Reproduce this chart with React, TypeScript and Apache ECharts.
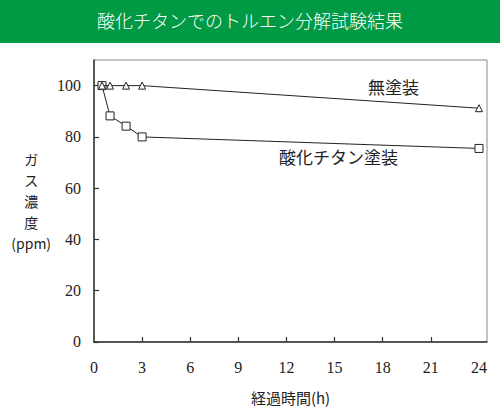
import * as echarts from "echarts";
import { useEffect, useRef } from "react";

// 経過時間 (h)
const hours = [0.5, 1, 2, 3, 24];
// 無塗装 (triangles)
const uncoated = [100, 100, 100, 100, 91.2];
// 酸化チタン塗装 (squares)
const coated = [100, 88.2, 84.2, 80, 75.5];

const xTicks = [0, 3, 6, 9, 12, 15, 18, 21, 24];
const yTicks = [0, 20, 40, 60, 80, 100];

const title = "酸化チタンでのトルエン分解試験結果";
const uncoatedName = "無塗装";
const coatedName = "酸化チタン塗装";

const serif = "serif";
const jp = "Noto Sans CJK JP";

function App() {
  const chartRef = useRef<HTMLDivElement>(null);

  useEffect(() => {
    if (!chartRef.current) return;
    const chart = echarts.init(chartRef.current, null, { renderer: "svg" });

    const lineStyle = { color: "#222", width: 1 };
    const tickLabel = {
      color: "#222",
      fontSize: 16,
      fontFamily: serif,
      fontWeight: "normal",
    };

    chart.setOption({
      animation: false,
      backgroundColor: "#fff",
      graphic: [
        {
          type: "rect",
          left: 0,
          top: 0,
          shape: { width: 500, height: 43 },
          style: { fill: "#009944" },
          silent: true,
        },
        {
          type: "text",
          left: "center",
          top: 11,
          style: {
            text: title,
            fill: "#fff",
            fontSize: 18,
            fontFamily: jp,
            fontWeight: 300,
          },
        },
        {
          type: "text",
          left: 368,
          top: 78,
          style: { text: uncoatedName, fill: "#222", fontSize: 17, fontFamily: jp },
        },
        {
          type: "text",
          left: 279,
          top: 148,
          style: { text: coatedName, fill: "#222", fontSize: 17, fontFamily: jp },
        },
      ],
      grid: {
        left: 94,
        top: 60,
        right: 13,
        bottom: 60,
        show: true,
        borderColor: "#888",
        borderWidth: 1,
      },
      xAxis: {
        type: "value",
        min: 0,
        max: 24.5,
        name: "経過時間(h)",
        nameLocation: "middle",
        nameGap: 48,
        nameTextStyle: { color: "#222", fontSize: 15, fontFamily: jp },
        axisLine: { lineStyle: { color: "#333", width: 1.5 } },
        axisTick: {
          inside: true,
          length: 5,
          customValues: xTicks.slice(1, -1),
          lineStyle: { color: "#333", width: 1.2 },
        },
        axisLabel: { ...tickLabel, customValues: xTicks, margin: 18 },
        splitLine: { show: false },
      },
      yAxis: {
        type: "value",
        min: 0,
        max: 110,
        name: "ガ\nス\n濃\n度\n(ppm)",
        nameLocation: "middle",
        nameRotate: 0,
        nameGap: 56,
        nameTextStyle: {
          color: "#222",
          fontSize: 14,
          lineHeight: 21,
          fontFamily: jp,
          align: "center",
        },
        axisLine: { show: true, lineStyle: { color: "#333", width: 1.5 } },
        axisTick: {
          show: true,
          inside: true,
          length: 5,
          customValues: yTicks,
          lineStyle: { color: "#333", width: 1.2 },
        },
        axisLabel: { ...tickLabel, customValues: yTicks, margin: 13 },
        splitLine: { show: false },
      },
      series: [
        {
          name: uncoatedName,
          type: "line",
          data: hours.map((h, i) => [h, uncoated[i]]),
          symbol: "triangle",
          symbolSize: 7,
          showAllSymbol: true,
          itemStyle: { color: "#fff", borderColor: "#222", borderWidth: 1 },
          lineStyle,
          z: 3,
        },
        {
          name: coatedName,
          type: "line",
          data: hours.map((h, i) => [h, coated[i]]),
          symbol: "rect",
          symbolSize: 8,
          showAllSymbol: true,
          itemStyle: { color: "#fff", borderColor: "#222", borderWidth: 1 },
          lineStyle,
          z: 2,
        },
      ],
    });

    return () => {
      chart.dispose();
    };
  }, []);

  return (
    <div
      ref={chartRef}
      style={{ position: "absolute", left: 0, top: 0, width: 500, height: 410 }}
    />
  );
}

export default App;
